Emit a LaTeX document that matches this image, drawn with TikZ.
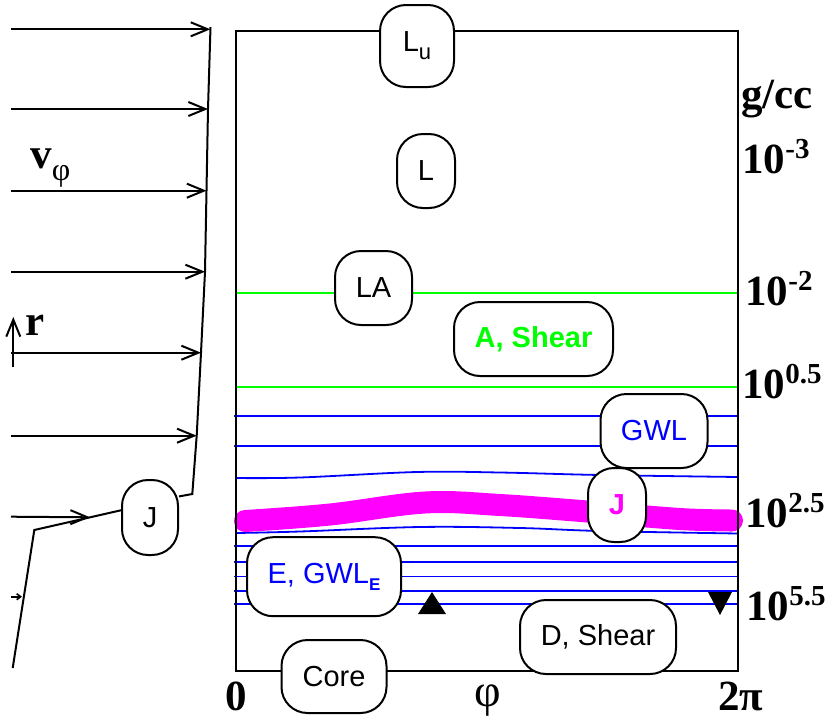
\documentclass[tikz,border=0pt]{standalone}
\usepackage{fontspec}
\setmainfont{Liberation Serif}
\setsansfont{Liberation Sans}
\usetikzlibrary{arrows.meta}
\definecolor{layerBlue}{HTML}{0000FF}
\definecolor{shearGreen}{HTML}{00FF00}
\definecolor{jetMagenta}{HTML}{FF00FF}
\newcommand{\dexp}[1]{\raisebox{7.5pt}{\fontsize{14.5}{14.5}\selectfont #1}}
\newcommand{\zsub}[2]{\raisebox{-#1}{\fontsize{11}{11}\selectfont #2}}

\tikzset{
  zone/.style={draw,fill=white,line width=1pt,rounded corners=13pt,inner sep=0pt,
    font=\sffamily\fontsize{14.5}{16}\selectfont,minimum height=37pt},
  layer/.style={layerBlue,line width=0.9pt},
  shearline/.style={shearGreen,line width=0.9pt},
  jetline/.style={jetMagenta,line width=11pt,line cap=round},
  vel/.style={line width=1pt,-{Straight Barb[length=8.5pt,width=7pt,line width=1pt]}},
  axlabel/.style={font=\bfseries\fontsize{21.5}{23}\selectfont,inner sep=0pt},
}

\begin{document}
\begin{tikzpicture}[x=0.5pt,y=-0.5pt,font=\sffamily]
\useasboundingbox (0,0) rectangle (830,718);

% Flat layers of the lower part.
\foreach \ly in {416,446,546,561.7,576.5,590.7,604.3} {
  \draw[layer] (234,\ly) -- (738,\ly);
}
% The two layers next to the jet follow its bump.
\draw[layer] plot[smooth,tension=0.6] coordinates
  {(236,478) (300,477.5) (417,472) (500,472.5) (600,475) (738,477)};
\draw[layer] plot[smooth,tension=0.6] coordinates
  {(236,533) (300,531.5) (420,527) (520,528) (600,531) (738,533.5)};

\foreach \ly in {293,387} {
  \draw[shearline] (236,\ly) -- (738,\ly);
}

% Jet.
\draw[jetline] plot[smooth,tension=0.6] coordinates
  {(245,521) (330,514.5) (425,502.5) (500,505) (590,511.7) (680,519) (732,520.5)};

\draw[line width=1pt] (236,31) rectangle (738,670.5);

% Zones.
\node[zone,minimum width=37pt,minimum height=41pt] (Lu) at (417,46)
  {L\zsub{4pt}{u}};
\node[zone,minimum width=29pt] (L) at (426,171) {L};
\node[zone,minimum width=38.5pt] (LA) at (373.5,288) {LA};
\node[zone,minimum width=79.5pt,text=shearGreen,font=\sffamily\bfseries\fontsize{14.5}{16}\selectfont]
  (ASh) at (533.5,339) {A, Shear};
\node[zone,minimum width=53.5pt,text=layerBlue] (GWL) at (654,431) {GWL};
\node[zone,minimum width=29pt,text=jetMagenta,font=\sffamily\bfseries\fontsize{14.5}{16}\selectfont]
  (Jr) at (617,505) {J};
\node[zone,minimum width=77pt,minimum height=39.5pt,text=layerBlue] (EG) at (324,576.7)
  {E, GWL\raisebox{-3.3pt}{\fontsize{8.5}{8.5}\selectfont\bfseries E}};
\node[zone,minimum width=78pt] (DSh) at (598,637) {D, Shear};
\node[zone,minimum width=52.5pt,minimum height=36.5pt] (Core) at (334,676.5) {Core};

% Markers.
\fill (418,614) -- (446,614) -- (432,592) -- cycle;
\fill (708,592) -- (732,592) -- (720,615) -- cycle;

% Density scale.
\node[axlabel,anchor=base west] (gcc) at (741,108) {g/cc};
\node[axlabel,anchor=base west] (d1) at (742,173) {10\dexp{-3}};
\node[axlabel,anchor=base west] (d2) at (745,305) {10\dexp{-2}};
\node[axlabel,anchor=base west] (d3) at (742,398.5) {10\dexp{0.5}};
\node[axlabel,anchor=base west] (d4) at (745,527.5) {10\dexp{2.5}};
\node[axlabel,anchor=base west] (d5) at (746,620) {10\dexp{5.5}};

\node[axlabel,anchor=base] (phi0) at (236,710) {0};
\node[axlabel,anchor=base,font=\fontsize{23}{25}\selectfont] (phiax) at (488,706) {φ};
\node[axlabel,anchor=base] (phi2) at (741,710) {2π};

% Velocity profile.
\foreach \i/\px/\py in {1/210.4/29.3,2/208/109,3/206.5/190.7,4/205/271.7,5/201/352.7,6/196.7/435.7} {
  \coordinate (a\i) at (11,\py);
  \coordinate (p\i) at (\px,\py);
  \draw[vel] (a\i) -- (p\i);
}
\node[zone,minimum width=28pt,minimum height=37.5pt] (Jl) at (150,517.5) {J};
\coordinate (pTop) at (210.5,27);
\coordinate (pKnee) at (192.3,494);
\coordinate (pFoot) at (34.3,530);
\coordinate (pEnd) at (12.7,668);
\draw[line width=1pt] (pTop) -- (p2) -- (p3) -- (p4) -- (p5) -- (p6) -- (pKnee) -- (Jl.36);
\draw[line width=1pt] (Jl.166) -- (pFoot) -- (pEnd);
\coordinate (a7) at (11,516.7);
\coordinate (p7) at (90,517.3);
\draw[vel] (a7) -- (p7);
\coordinate (a8) at (11,596.7);
\coordinate (p8) at (22,596.7);
\draw[line width=0.8pt,-{Straight Barb[length=2pt,width=3pt]}] (a8) -- (p8);

\node[axlabel,anchor=base west] (vphi) at (30,168)
  {v\raisebox{-6pt}{\fontsize{16}{16}\selectfont\mdseries φ}};
\coordinate (rBot) at (13.3,366.7);
\coordinate (rTop) at (13.3,317);
\draw[vel] (rBot) -- (rTop);
\node[axlabel,anchor=base west] (rlab) at (25,335) {r};

\end{tikzpicture}
\end{document}
